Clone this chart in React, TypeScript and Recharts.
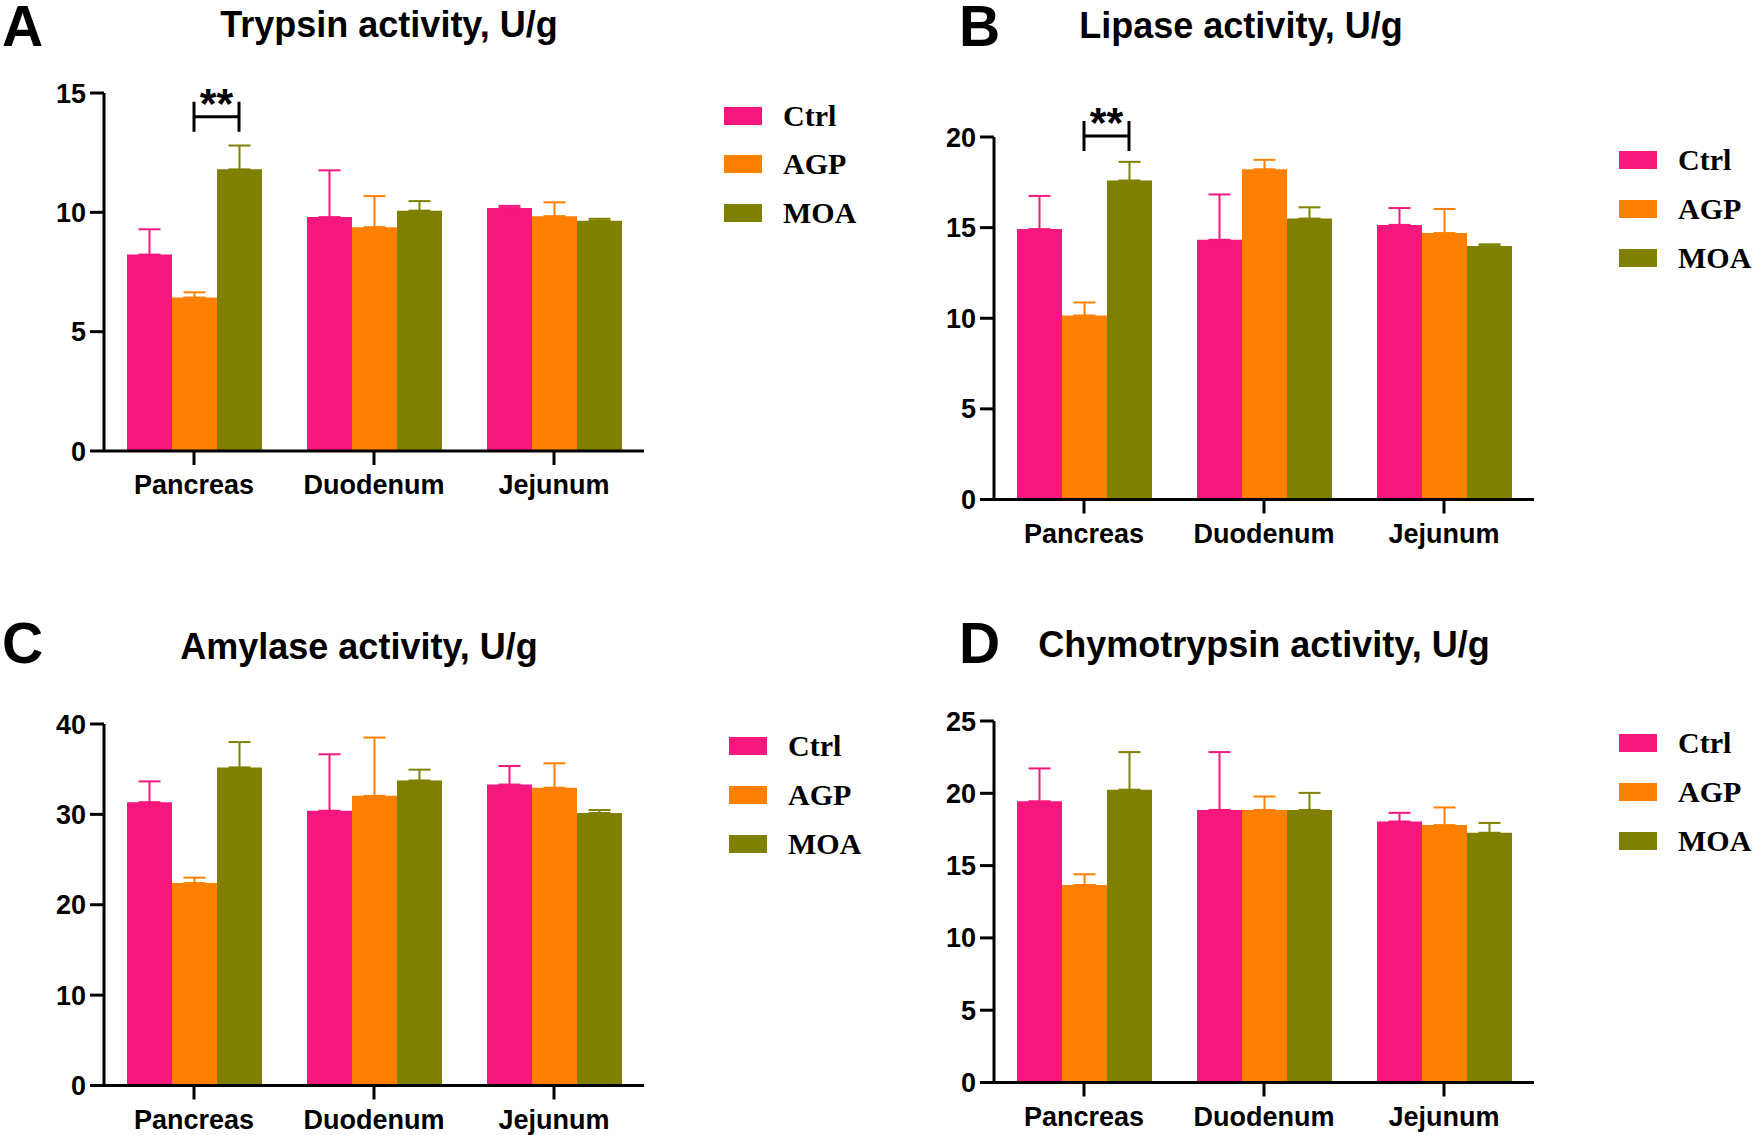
import React from "react";
import { Bar, BarChart, ErrorBar, ReferenceDot, XAxis, YAxis } from "recharts";

// Tissue categories and treatment groups shared by all four panels
const categories = ["Pancreas", "Duodenum", "Jejunum"];
const groups = ["Ctrl", "AGP", "MOA"];
const groupColors = ["#F5177E", "#FF8000", "#808000"];

// means[group][category], sem[group][category] (upper error only)
const trypsinMeans = [
  [8.23, 9.8, 10.18],
  [6.43, 9.38, 9.84],
  [11.8, 10.07, 9.65],
];
const trypsinSem = [
  [1.06, 1.96, 0.09],
  [0.22, 1.3, 0.58],
  [1.0, 0.4, 0.08],
];
const trypsinTicks = [0, 5, 10, 15];

const lipaseMeans = [
  [14.92, 14.33, 15.15],
  [10.15, 18.22, 14.7],
  [17.6, 15.5, 13.98],
];
const lipaseSem = [
  [1.83, 2.5, 0.93],
  [0.72, 0.52, 1.33],
  [1.03, 0.62, 0.1],
];
const lipaseTicks = [0, 5, 10, 15, 20];

const amylaseMeans = [
  [31.35, 30.4, 33.3],
  [22.4, 32.05, 32.95],
  [35.2, 33.75, 30.15],
];
const amylaseSem = [
  [2.3, 6.25, 2.05],
  [0.6, 6.45, 2.7],
  [2.8, 1.2, 0.33],
];
const amylaseTicks = [0, 10, 20, 30, 40];

const chymoMeans = [
  [19.45, 18.85, 18.05],
  [13.66, 18.85, 17.8],
  [20.25, 18.85, 17.27],
];
const chymoSem = [
  [2.27, 4.0, 0.6],
  [0.74, 0.93, 1.22],
  [2.6, 1.18, 0.68],
];
const chymoTicks = [0, 5, 10, 15, 20, 25];

const SANS = "'Liberation Sans', Arial, Helvetica, sans-serif";
const SERIF = "'Liberation Serif', 'Times New Roman', serif";

const Y_W = 100;
const TOP_M = 80;
const X_H = 70;
const PLOT_W = 540;
const BAR_W = 45;

function buildRows(means: number[][], sem: number[][]) {
  return categories.map((name, i) => {
    const row: Record<string, any> = { name };
    groups.forEach((_, g) => {
      row[`g${g}`] = means[g][i];
      row[`g${g}e`] = [0, sem[g][i]];
    });
    return row;
  });
}

// significance bracket between AGP and MOA in the Pancreas group
function Bracket(props: any) {
  const { cx, cy } = props;
  if (cx == null || cy == null) return <g />;
  const x2 = cx + BAR_W;
  return (
    <g>
      <path
        d={`M${cx},${cy - 15}V${cy + 15}M${cx},${cy}H${x2}M${x2},${cy - 15}V${cy + 15}`}
        stroke="#000"
        strokeWidth={3}
        fill="none"
      />
      <text x={cx + BAR_W / 2} y={cy + 1} textAnchor="middle" fontFamily={SANS} fontWeight="bold" fontSize={43} fill="#000">
        **
      </text>
    </g>
  );
}

interface PanelProps {
  means: number[][];
  sem: number[][];
  ticks: number[];
  left: number;
  top: number;
  height: number;
  sigY?: number;
}

function Panel({ means, sem, ticks, left, top, height, sigY }: PanelProps) {
  const rows = buildRows(means, sem);
  const axisStroke = { stroke: "#000", strokeWidth: 3 };
  const tickStyle = { fill: "#000", fontSize: 27, fontWeight: "bold", fontFamily: SANS };
  return (
    <div style={{ position: "absolute", left: left - Y_W, top: top - TOP_M }}>
      <BarChart
        width={Y_W + PLOT_W + 12}
        height={TOP_M + height + X_H}
        data={rows}
        margin={{ top: TOP_M, right: 12, bottom: 0, left: 0 }}
        barGap={0}
        barSize={BAR_W}
      >
        <XAxis
          dataKey="name"
          interval={0}
          height={X_H}
          axisLine={axisStroke}
          tickLine={axisStroke}
          tickSize={14}
          tickMargin={10}
          tick={tickStyle}
        />
        <YAxis
          type="number"
          domain={[0, ticks[ticks.length - 1]]}
          ticks={ticks}
          interval={0}
          width={Y_W}
          allowDataOverflow
          axisLine={axisStroke}
          tickLine={axisStroke}
          tickSize={14}
          tickMargin={4}
          tick={tickStyle}
        />
        {groups.map((g, gi) => (
          <Bar key={g} dataKey={`g${gi}`} name={g} fill={groupColors[gi]} isAnimationActive={false}>
            <ErrorBar
              dataKey={`g${gi}e`}
              direction="y"
              width={11}
              stroke={groupColors[gi]}
              strokeWidth={2}
              isAnimationActive={false}
            />
          </Bar>
        ))}
        {sigY != null && (
          <ReferenceDot x="Pancreas" y={sigY} r={0} ifOverflow="visible" shape={(p: any) => <Bracket {...p} />} />
        )}
      </BarChart>
    </div>
  );
}

function Legend({ x, ys }: { x: number; ys: number[] }) {
  return (
    <g>
      {groups.map((g, i) => (
        <g key={g}>
          <rect x={x} y={ys[i] - 9} width={38} height={18} fill={groupColors[i]} />
          <text x={x + 59} y={ys[i]} dy="0.33em" fontFamily={SERIF} fontWeight="bold" fontSize={30} fill="#000">
            {g}
          </text>
        </g>
      ))}
    </g>
  );
}

const panelText = [
  { letter: "A", lx: 2, ly: 46, title: "Trypsin activity, U/g", tx: 389, ty: 37, legX: 724, legY: [116, 164, 213] },
  { letter: "B", lx: 959, ly: 46, title: "Lipase activity, U/g", tx: 1241, ty: 38, legX: 1619, legY: [160, 209, 258] },
  { letter: "C", lx: 2, ly: 663, title: "Amylase activity, U/g", tx: 359, ty: 659, legX: 729, legY: [746, 795, 844] },
  { letter: "D", lx: 959, ly: 663, title: "Chymotrypsin activity, U/g", tx: 1264, ty: 657, legX: 1619, legY: [743, 792, 841] },
];

export default function App() {
  return (
    <div style={{ position: "absolute", left: 0, top: 0, width: 1752, height: 1135, background: "#fff", overflow: "hidden" }}>
      <svg width={1752} height={1135} style={{ position: "absolute", left: 0, top: 0 }}>
        {panelText.map((p) => (
          <g key={p.letter}>
            <text x={p.lx} y={p.ly} fontFamily={SANS} fontWeight="bold" fontSize={57} fill="#000">
              {p.letter}
            </text>
            <text x={p.tx} y={p.ty} textAnchor="middle" fontFamily={SANS} fontWeight="bold" fontSize={36} fill="#000">
              {p.title}
            </text>
            <Legend x={p.legX} ys={p.legY} />
          </g>
        ))}
      </svg>
      <Panel means={trypsinMeans} sem={trypsinSem} ticks={trypsinTicks} left={104} top={92.7} height={358} sigY={14.0} />
      <Panel means={lipaseMeans} sem={lipaseSem} ticks={lipaseTicks} left={994} top={136.5} height={362.5} sigY={20.05} />
      <Panel means={amylaseMeans} sem={amylaseSem} ticks={amylaseTicks} left={104} top={723.5} height={361.5} />
      <Panel means={chymoMeans} sem={chymoSem} ticks={chymoTicks} left={994} top={720.5} height={361.5} />
    </div>
  );
}
